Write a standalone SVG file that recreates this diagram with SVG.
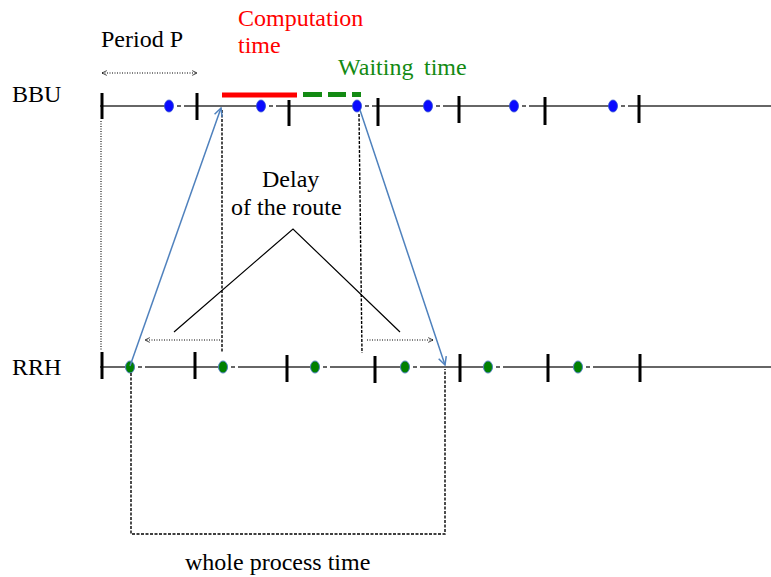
<svg xmlns="http://www.w3.org/2000/svg" xmlns:xlink="http://www.w3.org/1999/xlink" width="771" height="577" viewBox="0 0 771 577">
<style>
text{font-family:"Liberation Serif","Times New Roman",serif;font-size:24px;fill:#000}
.red{fill:#ff0000}
.grn{fill:#138a13}
.axis{stroke:#333;stroke-width:1.5;fill:none}
.tick{stroke:#000;stroke-width:3}
.dash{stroke:#000;stroke-width:1.4;stroke-dasharray:3 1.5;fill:none}
.dot{stroke:#000;stroke-width:1.1;stroke-dasharray:1 1.5;fill:none}
.blue{stroke:#4f81bd;stroke-width:1.5;fill:none}
.thin{stroke:#000;stroke-width:1.2;fill:none}
</style>
<defs>
<g id="dB"><rect x="4" y="-2.5" width="4" height="5" fill="#fff"/><rect x="12" y="-2.5" width="3" height="5" fill="#fff"/><ellipse cx="0" cy="0" rx="4.5" ry="6" fill="#0a0aff" stroke="#3050d0" stroke-width="0.8"/></g>
<g id="dG"><rect x="4" y="-2.5" width="4" height="5" fill="#fff"/><rect x="12" y="-2.5" width="3" height="5" fill="#fff"/><ellipse cx="0" cy="0" rx="4.5" ry="6" fill="#008000" stroke="#4f81bd" stroke-width="1"/></g>
<marker id="ab" viewBox="0 0 10 10" refX="9" refY="5" markerWidth="10" markerHeight="10" markerUnits="userSpaceOnUse" orient="auto"><path d="M1,1 L9,5 L1,9" fill="none" stroke="#4f81bd" stroke-width="1.5"/></marker>
<marker id="ak" viewBox="0 0 10 10" refX="9" refY="5" markerWidth="6" markerHeight="6" markerUnits="userSpaceOnUse" orient="auto"><path d="M1,1 L9,5 L1,9" fill="none" stroke="#000" stroke-width="1.2"/></marker>
<marker id="aks" viewBox="0 0 10 10" refX="1" refY="5" markerWidth="6" markerHeight="6" markerUnits="userSpaceOnUse" orient="auto"><path d="M9,1 L1,5 L9,9" fill="none" stroke="#000" stroke-width="1.2"/></marker>
</defs>

<g id="labels">
<text x="101" y="47">Period P</text>
<text class="red" x="238" y="26">Computation</text>
<text class="red" x="238" y="53">time</text>
<text class="grn" x="338" y="75">Waiting</text>
<text class="grn" x="424" y="75">time</text>
<text x="12" y="102">BBU</text>
<text x="12" y="375">RRH</text>
<text x="262" y="187">Delay</text>
<text x="231" y="215">of the route</text>
<text x="185" y="570">whole process time</text>
</g>

<g id="bbu">
<line class="axis" x1="100" y1="106" x2="771" y2="106"/>
<use xlink:href="#dB" x="169" y="106"/>
<use xlink:href="#dB" x="261" y="106"/>
<use xlink:href="#dB" x="357" y="106"/>
<use xlink:href="#dB" x="428" y="106"/>
<use xlink:href="#dB" x="514" y="106"/>
<use xlink:href="#dB" x="613" y="106"/>
<line class="tick" x1="102" y1="93" x2="102" y2="119"/>
<line class="tick" x1="197" y1="93" x2="197" y2="120"/>
<line class="tick" x1="289" y1="100" x2="289" y2="126"/>
<line class="tick" x1="378" y1="98" x2="378" y2="126"/>
<line class="tick" x1="459" y1="96" x2="459" y2="123"/>
<line class="tick" x1="545" y1="97" x2="545" y2="125"/>
<line class="tick" x1="639" y1="95" x2="639" y2="123"/>
</g>

<g id="computation-bar">
<rect x="222" y="92.5" width="75" height="5" fill="#ff0000"/>
</g>
<g id="waiting-bar">
<rect x="303" y="92" width="19" height="5" fill="#138a13"/>
<rect x="328" y="92" width="18" height="5" fill="#138a13"/>
<rect x="352" y="92" width="9" height="5" fill="#138a13"/>
</g>

<g id="rrh">
<line class="axis" x1="100" y1="367" x2="771" y2="367"/>
<use xlink:href="#dG" x="130" y="367"/>
<use xlink:href="#dG" x="223" y="367"/>
<use xlink:href="#dG" x="315" y="367"/>
<use xlink:href="#dG" x="405" y="367"/>
<use xlink:href="#dG" x="488" y="367"/>
<use xlink:href="#dG" x="578" y="367"/>
<line class="tick" x1="102" y1="352" x2="102" y2="379"/>
<line class="tick" x1="195" y1="352" x2="195" y2="379"/>
<line class="tick" x1="287" y1="355" x2="287" y2="382"/>
<line class="tick" x1="375" y1="356" x2="375" y2="383"/>
<line class="tick" x1="460" y1="354" x2="460" y2="382"/>
<line class="tick" x1="548" y1="354" x2="548" y2="382"/>
<line class="tick" x1="640" y1="354" x2="640" y2="382"/>
</g>

<g id="connectors">
<path class="dot" d="M102,73 H197" marker-start="url(#aks)" marker-end="url(#ak)"/>
<line class="dot" x1="101" y1="121" x2="101" y2="350"/>
<line class="dash" x1="222" y1="110" x2="222" y2="353"/>
<line class="dash" x1="359" y1="114" x2="362" y2="353"/>
<line class="blue" x1="130" y1="366" x2="221" y2="108" marker-end="url(#ab)"/>
<line class="blue" x1="360" y1="110" x2="445" y2="365" marker-end="url(#ab)"/>
<path class="dot" d="M220,340 H145" marker-end="url(#ak)"/>
<path class="dot" d="M367,340 H433" marker-end="url(#ak)"/>
<path class="thin" d="M174,332 L293,229 L400,332"/>
<path class="dash" d="M131,373 V534 H445 V369"/>
</g>
</svg>
